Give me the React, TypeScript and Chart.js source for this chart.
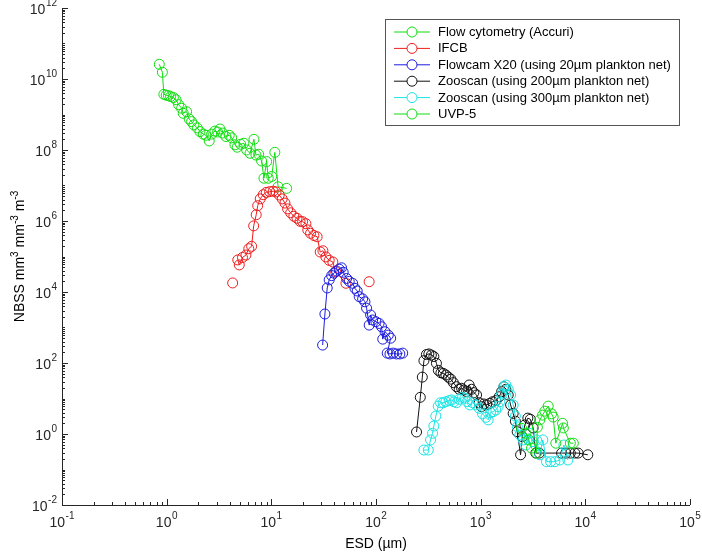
import { useEffect, useRef } from "react";
import { Chart, Plugin, registerables } from "chart.js";

Chart.register(...registerables);

// ESD (µm) and NBSS values, one pair of arrays per instrument
const flowX = [0.85, 0.91, 0.94, 0.99, 1.04, 1.09, 1.16, 1.23, 1.3, 1.39, 1.44, 1.55, 1.64, 1.73, 1.82, 1.96, 2.08, 2.24, 2.37, 2.55, 2.69, 2.89, 3.07, 3.23, 3.43, 3.68, 3.96, 4.18, 4.49, 4.72, 5.09, 5.47, 5.81, 6.25, 6.82, 7.13, 7.56, 8.07, 8.5, 9.02, 9.34, 10.07, 10.8, 11.6, 14.0];
const flowY = [2.6e10, 1.55e10, 3.7e9, 3.5e9, 3.4e9, 3.2e9, 3.0e9, 2.6e9, 1.9e9, 1.5e9, 1.08e9, 1.2e9, 7.5e8, 6.3e8, 5.1e8, 4.2e8, 3.3e8, 2.8e8, 2.6e8, 1.8e8, 2.8e8, 3.4e8, 3.2e8, 3.9e8, 3.0e8, 2.4e8, 2.6e8, 2.2e8, 1.4e8, 1.2e8, 1.45e8, 1.55e8, 1.0e8, 8.1e7, 2.0e8, 7.2e7, 7.6e7, 4.9e7, 1.6e7, 4.7e7, 1.6e7, 1.8e7, 8.6e7, 9.2e6, 8.3e6];

// null breaks the line: first and last IFCB points stand alone
const ifcbX = [4.27, 4.27, 4.78, 4.94, 5.3, 5.72, 6.09, 6.48, 6.78, 7.17, 7.41, 7.83, 8.37, 8.94, 9.64, 10.4, 11.1, 11.9, 12.7, 13.5, 14.3, 15.3, 16.4, 17.6, 18.8, 19.9, 21.4, 22.3, 23.7, 25.5, 27.4, 29.3, 31.1, 33.2, 35.7, 38.7, 41.2, 51.6, 51.6, 86];
const ifcbY = [1.8e4, null, 8.0e4, 5.8e4, 9.4e4, 1.1e5, 1.66e5, 1.94e5, 7.3e5, 1.5e6, 2.7e6, 4.2e6, 5.5e6, 6.4e6, 6.7e6, 6.9e6, 6.6e6, 5.4e6, 4.2e6, 3.2e6, 2.2e6, 1.7e6, 1.36e6, 1.19e6, 9.8e5, 9.6e5, 8.4e5, 5.6e5, 4.5e5, 3.9e5, 3.6e5, 1.34e5, 1.45e5, 9.7e4, 7.8e4, 7.0e4, 3.7e4, 1.76e4, null, 1.95e4];

const flowcamX = [30.9, 32.5, 34.2, 35.7, 37.7, 39.6, 42.0, 44.5, 46.9, 48.6, 52.4, 55.5, 59.8, 62.9, 66.1, 69.1, 74.5, 78.4, 81.3, 86.1, 88.8, 92.8, 99.8, 107, 113, 116, 122, 131, 138, 128, 136, 146, 157, 169, 180];
const flowcamY = [3.2e2, 2.4e3, 1.3e4, 2.2e4, 2.9e4, 3.4e4, 3.9e4, 4.4e4, 4.8e4, 3.6e4, 2.4e4, 2.0e4, 1.76e4, 1.27e4, 1.07e4, 7.4e3, 6.4e3, 5.3e3, 3.5e3, 1.17e3, 2.25e3, 1.63e3, 1.46e3, 1.3e3, 1.05e3, 4.7e2, 7.6e2, 6.1e2, 5.0e2, 1.9e2, 1.8e2, 1.9e2, 1.8e2, 1.8e2, 1.9e2];

const zoo200X = [244, 265, 277, 287, 303, 320, 338, 357, 378, 394, 417, 440, 465, 491, 519, 548, 586, 623, 657, 691, 733, 776, 818, 861, 914, 968, 1020, 1073, 1138, 1224, 1300, 1397, 1503, 1585, 1667, 1742, 1833, 1932, 2044, 2145, 2233, 2406, 2502, 2644, 2823, 2983, 3171, 3366, 3637, 5929, 6511, 7189, 7936, 8535, 10560];
const zoo200Y = [1.14, 10.8, 40, 116, 173, 180, 168, 152, 98, 62, 53, 51, 46, 40, 35, 28, 21.5, 18.2, 19.4, 17.4, 15.6, 24, 18.2, 14.6, 12.6, 7.6, 5.9, 7.0, 6.6, 7.3, 8.1, 8.7, 11.2, 15.6, 21.5, 18.2, 12.6, 6.6, 3.8, 2.3, 1.16, 0.26, 0.84, 1.8, 2.8, 2.6, 1.48, 0.29, 0.29, 0.29, 0.29, 0.29, 0.29, 0.29, 0.26];

const zoo300X = [287, 316, 332, 347, 357, 373, 393, 414, 438, 465, 500, 527, 555, 589, 623, 671, 706, 743, 788, 837, 900, 968, 1042, 1122, 1180, 1242, 1316, 1397, 1469, 1524, 1585, 1667, 1742, 1833, 1932, 2044, 2145, 2243, 2367, 2547, 2704, 2904, 3171, 3420, 3675, 3927, 4257, 4658, 5117, 5705, 6237, 6807];
const zoo300Y = [0.354, 0.354, 0.68, 1.05, 1.68, 3.2, 6.1, 7.6, 7.6, 8.1, 8.7, 9.1, 8.1, 7.6, 9.5, 10.8, 10.1, 8.1, 6.6, 7.6, 6.6, 5.3, 3.7, 2.95, 2.5, 4.0, 4.25, 4.74, 5.9, 8.1, 13.4, 21.5, 24, 18.2, 12.6, 6.6, 3.2, 1.6, 0.94, 0.68, 0.49, 1.05, 0.61, 0.68, 0.26, 0.68, 0.166, 0.166, 0.166, 0.185, 0.49, 0.185];

const uvpX = [2459, 2704, 2885, 3062, 3420, 3481, 3675, 3902, 4105, 4418, 4756, 4930, 5225, 6058, 6165, 7189, 7681];
const uvpY = [1.45, 1.05, 0.68, 0.4, 0.29, 1.55, 2.5, 3.4, 4.4, 6.1, 3.7, 3.0, 0.55, 2.0, 1.48, 0.55, 0.55];

const seriesLabels = [
    "Flow cytometry (Accuri)",
    "IFCB",
    "Flowcam X20 (using 20µm plankton net)",
    "Zooscan (using 200µm plankton net)",
    "Zooscan (using 300µm plankton net)",
    "UVP-5",
];
const seriesColors = ["#10dd10", "#ee1c1c", "#1c1cdd", "#111111", "#18e4e4", "#10dd10"];

const xExpRange = [-1, 5];
const yExpRange = [-2, 12];

const FONT = '"Liberation Sans", Arial, Helvetica, sans-serif';
const AXIS_COLOR = "#262626";

function pts(xs: number[], ys: (number | null)[]) {
    return xs.map((x, i) => ({ x, y: ys[i] }));
}

// "10" with a raised exponent
function drawPow(ctx: CanvasRenderingContext2D, exp: number, x: number, y: number, align: "center" | "right") {
    const sup = exp < 0 ? "-" + Math.abs(exp) : String(exp);
    ctx.font = `14px ${FONT}`;
    const wb = ctx.measureText("10").width;
    ctx.font = `10px ${FONT}`;
    const ws = ctx.measureText(sup).width;
    const total = wb + ws + 0.5;
    const x0 = align === "center" ? x - total / 2 : x - total;
    ctx.textAlign = "left";
    ctx.textBaseline = "middle";
    ctx.font = `14px ${FONT}`;
    ctx.fillText("10", x0, y);
    ctx.font = `10px ${FONT}`;
    ctx.fillText(sup, x0 + wb + 0.5, y - 6.5);
}

// text runs where some pieces are superscripts, drawn from x along the baseline
function drawRuns(ctx: CanvasRenderingContext2D, runs: [string, boolean][], cx: number, baseline: number) {
    const widths = runs.map(([t, sup]) => {
        ctx.font = sup ? `10px ${FONT}` : `14px ${FONT}`;
        return ctx.measureText(t).width;
    });
    let x = cx - widths.reduce((a, b) => a + b, 0) / 2;
    ctx.textAlign = "left";
    ctx.textBaseline = "alphabetic";
    runs.forEach(([t, sup], i) => {
        ctx.font = sup ? `10px ${FONT}` : `14px ${FONT}`;
        ctx.fillText(t, x, sup ? baseline - 6 : baseline);
        x += widths[i];
    });
}

const matlabAxes: Plugin<"scatter"> = {
    id: "matlabAxes",
    afterDraw(chart) {
        const ctx = chart.ctx;
        const xs = chart.scales.x;
        const ys = chart.scales.y;
        const { left, right, top, bottom } = chart.chartArea;
        ctx.save();
        ctx.strokeStyle = AXIS_COLOR;
        ctx.fillStyle = AXIS_COLOR;
        ctx.lineWidth = 1;

        ctx.beginPath();
        ctx.moveTo(left + 0.5, top);
        ctx.lineTo(left + 0.5, bottom + 0.5);
        ctx.lineTo(right, bottom + 0.5);
        ctx.stroke();

        // x ticks point inward (up)
        ctx.beginPath();
        for (let e = xExpRange[0]; e <= xExpRange[1]; e++) {
            for (let m = 1; m < 10; m++) {
                if (e === xExpRange[1] && m > 1) break;
                const px = Math.round(xs.getPixelForValue(m * Math.pow(10, e))) + 0.5;
                const len = m === 1 ? 6 : 3;
                ctx.moveTo(px, bottom);
                ctx.lineTo(px, bottom - len);
            }
        }
        // y ticks point inward (right); long ones every second decade
        for (let e = yExpRange[0]; e <= yExpRange[1]; e++) {
            for (let m = 1; m < 10; m++) {
                if (e === yExpRange[1] && m > 1) break;
                const py = Math.round(ys.getPixelForValue(m * Math.pow(10, e))) + 0.5;
                const len = m === 1 && e % 2 === 0 ? 6 : 3;
                ctx.moveTo(left, py);
                ctx.lineTo(left + len, py);
            }
        }
        ctx.stroke();

        for (let e = xExpRange[0]; e <= xExpRange[1]; e++) {
            drawPow(ctx, e, xs.getPixelForValue(Math.pow(10, e)), bottom + 18, "center");
        }
        for (let e = yExpRange[0]; e <= yExpRange[1]; e += 2) {
            drawPow(ctx, e, left - 5, ys.getPixelForValue(Math.pow(10, e)) + 2, "right");
        }

        ctx.fillStyle = "#000";
        drawRuns(ctx, [["ESD (µm)", false]], (left + right) / 2, bottom + 43);

        ctx.translate(24, (top + bottom) / 2);
        ctx.rotate(-Math.PI / 2);
        drawRuns(ctx, [["NBSS mm", false], ["3", true], [" mm", false], ["-3", true], [" m", false], ["-3", true]], 0, 0);
        ctx.restore();
    },
};

// boxed legend inside the axes, top right
const boxLegend: Plugin<"scatter"> = {
    id: "boxLegend",
    afterDraw(chart) {
        const ctx = chart.ctx;
        const box = { x: 385, y: 19, w: 294, h: 106 };
        ctx.save();
        ctx.fillStyle = "#fff";
        ctx.fillRect(box.x, box.y, box.w, box.h);
        ctx.strokeStyle = "#555";
        ctx.lineWidth = 1;
        ctx.strokeRect(box.x + 0.5, box.y + 0.5, box.w, box.h);
        chart.data.datasets.forEach((ds, i) => {
            const y = box.y + 13 + i * 16.4;
            const color = ds.borderColor as string;
            ctx.strokeStyle = color;
            ctx.beginPath();
            ctx.moveTo(box.x + 9, y);
            ctx.lineTo(box.x + 45, y);
            ctx.stroke();
            ctx.beginPath();
            ctx.arc(box.x + 27, y, 5, 0, Math.PI * 2);
            ctx.fillStyle = "#fff";
            ctx.fill();
            ctx.stroke();
            ctx.fillStyle = "#000";
            ctx.font = `13px ${FONT}`;
            ctx.textAlign = "left";
            ctx.textBaseline = "middle";
            ctx.fillText(ds.label ?? "", box.x + 53, y + 0.5);
        });
        ctx.restore();
    },
};

export default function App() {
    const canvasRef = useRef<HTMLCanvasElement>(null);

    useEffect(() => {
        if (canvasRef.current === null) return;
        const seriesData = [
            pts(flowX, flowY),
            pts(ifcbX, ifcbY),
            pts(flowcamX, flowcamY),
            pts(zoo200X, zoo200Y),
            pts(zoo300X, zoo300Y),
            pts(uvpX, uvpY),
        ];
        const chart = new Chart(canvasRef.current, {
            type: "scatter",
            data: {
                datasets: seriesData.map((data, i) => ({
                    label: seriesLabels[i],
                    data,
                    showLine: true,
                    spanGaps: false,
                    borderColor: seriesColors[i],
                    borderWidth: 1,
                    pointRadius: 5,
                    pointBorderWidth: 1,
                    pointBorderColor: seriesColors[i],
                    pointBackgroundColor: "rgba(0,0,0,0)",
                    order: seriesData.length - i,
                })),
            },
            options: {
                animation: false,
                responsive: false,
                layout: { padding: { left: 62, top: 8, right: 12, bottom: 49 } },
                plugins: { legend: { display: false }, tooltip: { enabled: false } },
                scales: {
                    x: { type: "logarithmic", min: 0.1, max: 1e5, display: false },
                    y: { type: "logarithmic", min: 0.01, max: 1e12, display: false },
                },
            },
            plugins: [matlabAxes, boxLegend],
        });
        return () => {
            chart.destroy();
        };
    }, []);

    return (
        <div style={{ position: "absolute", left: 0, top: 0, width: 702, height: 554, background: "#fff" }}>
            <canvas ref={canvasRef} width={702} height={554} style={{ display: "block" }} />
        </div>
    );
}
